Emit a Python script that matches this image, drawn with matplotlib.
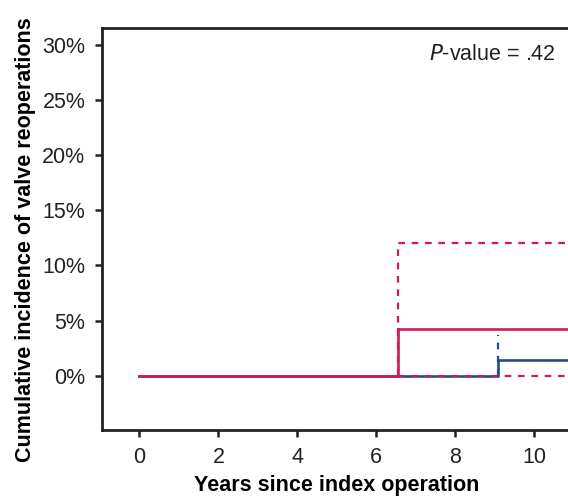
import matplotlib
matplotlib.use("Agg")
import matplotlib.pyplot as plt

plt.rcParams['font.family'] = ['Liberation Sans', 'DejaVu Sans']

red = '#d01c4e'
blue = '#1c4f8c'

# step curves (years, cumulative incidence %)
red_t = [0, 6.54, 10.95]
red_est = [0, 4.25, 4.25]
red_hi = [0, 12.0, 12.0]
red_lo = [0, 0, 0]

blue_t = [0, 9.1, 10.95]
blue_est = [0, 1.45, 1.45]
blue_hi = [0, 3.7]

xticks = [0, 2, 4, 6, 8, 10]
yticks = [0, 5, 10, 15, 20, 25, 30]
ylabels = ['0%', '5%', '10%', '15%', '20%', '25%', '30%']

fig = plt.figure(figsize=(5.68, 4.98), dpi=100)
ax = fig.add_axes([0.1796, 0.1365, 0.83, 0.8073])

lw = 1.9
ax.step(blue_t, blue_est, where='post', color=blue, lw=lw, zorder=3)
ax.plot([blue_t[1], blue_t[1]], blue_hi, color=blue, lw=1.6, ls=(0, (3, 3)), zorder=2)
ax.step(red_t[:2], red_est[:2], where='post', color=red, lw=lw, zorder=4)
ax.step(red_t[1:], red_est[1:], where='pre', color=red, lw=lw, zorder=4)
ax.plot([red_t[1], red_t[1], red_t[2]], [0, red_hi[1], red_hi[2]], color=red, lw=1.6, ls=(0, (3, 3)), zorder=4)
ax.plot(red_t[1:], red_lo[1:], color=red, lw=1.6, ls=(0, (3, 3)), zorder=5)

ax.set_xlim(-0.95, 11.0)
ax.set_ylim(-4.9, 31.5)
ax.set_xticks(xticks)
ax.set_yticks(yticks)
ax.set_yticklabels(ylabels)
ax.tick_params(direction='out', length=5, width=1.8, labelsize=15.5, colors='#222222', pad=7)

for s in ['left', 'bottom', 'top']:
    ax.spines[s].set_linewidth(2)
    ax.spines[s].set_color('#222222')
ax.spines['right'].set_visible(False)

ax.set_xlabel('Years since index operation', fontsize=15.5, fontweight='bold')
ax.set_ylabel('Cumulative incidence of valve reoperations', fontsize=15.5, fontweight='bold')
ax.xaxis.set_label_coords(0.497, -0.112)
ax.yaxis.set_label_coords(-0.14, 0.473)

ax.text(10.55, 29.1, r'$P$-value = .42', ha='right', va='center', fontsize=15.5,
        color='#222222')

fig.savefig('out.png', dpi=100)
